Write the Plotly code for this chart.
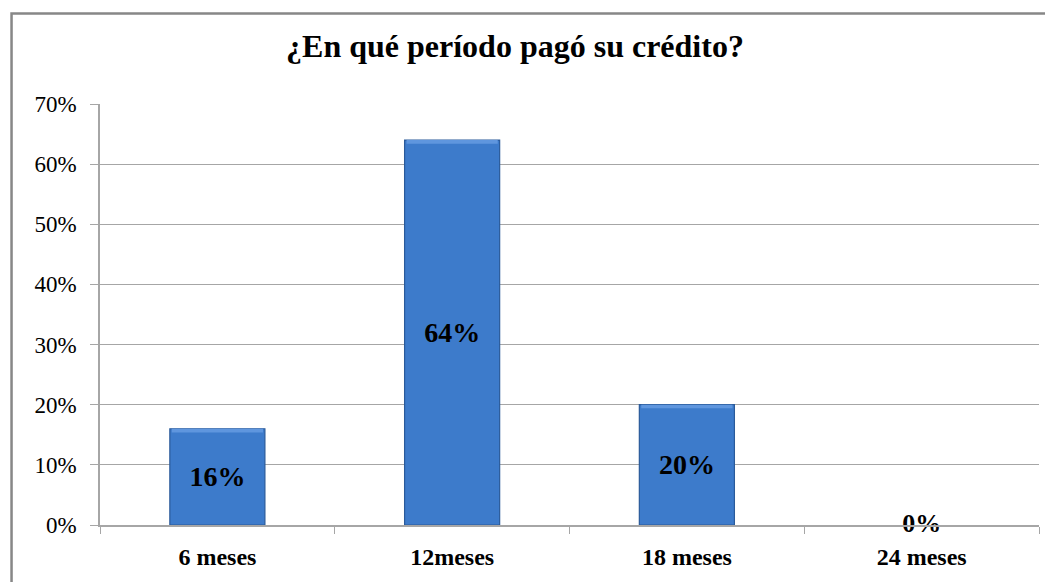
import plotly.graph_objects as go

categories = ["6 meses", "12meses", "18 meses", "24 meses"]
values = [0.16, 0.64, 0.20, 0.0]
labels = ["16%", "64%", "20%", "0%"]
y_ticks = [0, 0.1, 0.2, 0.3, 0.4, 0.5, 0.6, 0.7]
y_tick_text = ["0%", "10%", "20%", "30%", "40%", "50%", "60%", "70%"]

SERIF = "Liberation Serif, Times New Roman, serif"
BAR_W = 0.405

fig = go.Figure()
fig.add_trace(go.Bar(
    x=categories, y=values,
    width=BAR_W,
    marker=dict(color="#3D7BCB",
                line=dict(color="#2A5A9A", width=[1.2 if v > 0 else 0 for v in values])),
    text=["<b>%s</b>" % l if v > 0 else "" for l, v in zip(labels, values)],
    textposition="inside", insidetextanchor="middle",
    textfont=dict(family=SERIF, size=28, color="#000000"),
    textangle=0,
    hoverinfo="skip",
))
# lighter top bevel band on each bar, derived from the values
fig.add_trace(go.Bar(
    x=categories, y=[0.006 if v > 0 else 0 for v in values],
    base=[v - 0.006 for v in values],
    width=BAR_W * 0.96,
    marker=dict(color="#5F96DE", line=dict(width=0)),
    hoverinfo="skip",
))
# zero-value label drawn at its data position
fig.add_trace(go.Scatter(
    x=[c for c, v in zip(categories, values) if v == 0],
    y=[v for v in values if v == 0],
    mode="text",
    text=["<b>%s</b>" % l for l, v in zip(labels, values) if v == 0],
    textposition="middle center",
    textfont=dict(family=SERIF, size=26, color="#000000"),
    cliponaxis=False,
    hoverinfo="skip",
))

fig.update_layout(
    width=1053, height=582,
    margin=dict(l=92, r=22, t=96, b=65),
    paper_bgcolor="white", plot_bgcolor="white",
    showlegend=False, barmode="overlay",
    title=dict(text="<b>¿En qué período pagó su crédito?</b>",
               x=507 / 1053, xanchor="center", xref="container",
               y=1 - 38 / 582, yanchor="middle", yref="container",
               font=dict(family=SERIF, size=32, color="#000000")),
    xaxis=dict(
        type="category", range=[-0.5, 3.5],
        showline=True, linecolor="#A6A6A6", linewidth=1.5,
        ticks="outside", tickson="boundaries", ticklen=7, tickcolor="#A6A6A6",
        tickfont=dict(family=SERIF, size=24, color="#000000"),
        showgrid=False, zeroline=False,
        tickprefix="<b>", ticksuffix="</b>",
        ticklabelstandoff=9,
    ),
    yaxis=dict(
        range=[0, 0.7], tickvals=y_ticks, ticktext=y_tick_text,
        showline=True, linecolor="#A6A6A6", linewidth=1.5,
        ticks="outside", ticklen=8, tickcolor="#A6A6A6",
        showgrid=True, gridcolor="#A6A6A6", gridwidth=1.2,
        zeroline=False,
        tickfont=dict(family=SERIF, size=23, color="#000000"),
        ticklabelstandoff=9,
    ),
    shapes=[dict(type="rect", xref="paper", yref="paper",
                 x0=-0.0942, x1=1.2, y0=-0.4, y1=1.2148,
                 line=dict(color="#878787", width=2.5), layer="below")],
)

fig.write_html("out.html")
